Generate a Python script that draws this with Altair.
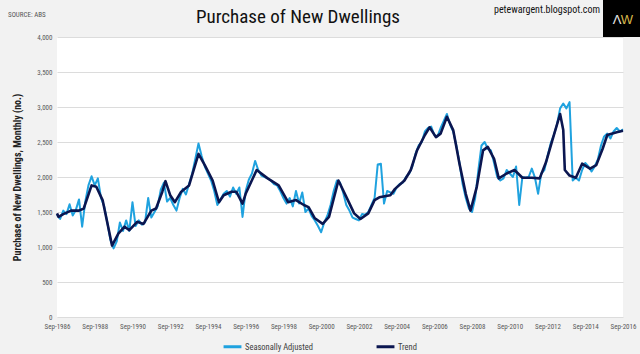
import altair as alt
import pandas as pd

# ---- data ----
start_year = 1986  # first observation: Sep-1986
tick_months = list(range(0, 361, 24))  # Sep every two years, months since Sep-1986

series_names = ["Seasonally Adjusted", "Trend"]
series_colors = ["#1fa2df", "#0b1650"]

trend_months = [0, 1, 4, 9, 14, 17, 22, 25, 29, 33,
                35, 39, 43, 46, 51, 55, 60, 63, 67, 69,
                72, 75, 79, 84, 90, 94, 99, 103, 106, 111,
                114, 118, 120, 127, 134, 141, 147, 152, 157, 160,
                164, 169, 173, 179, 185, 189, 193, 198, 202, 205,
                212, 215, 221, 225, 229, 234, 237, 241, 244, 248,
                252, 256, 260, 263, 267, 271, 274, 278, 281, 286,
                291, 296, 302, 307, 311, 315, 320, 322, 323, 326,
                330, 334, 339, 343, 347, 350, 356, 360]
trend_values = [1480, 1430, 1470, 1520, 1520, 1550, 1880, 1860, 1670, 1240,
                1020, 1190, 1290, 1240, 1360, 1330, 1520, 1550, 1790, 1940,
                1740, 1640, 1790, 1880, 2330, 2170, 1950, 1640, 1740, 1790,
                1790, 1620, 1760, 2100, 1980, 1880, 1640, 1670, 1600, 1570,
                1410, 1330, 1430, 1950, 1670, 1480, 1400, 1480, 1670, 1710,
                1740, 1830, 1950, 2100, 2380, 2600, 2710, 2570, 2620, 2860,
                2670, 2190, 1760, 1520, 1860, 2380, 2430, 2260, 1980, 2050,
                2100, 1990, 1990, 1980, 2210, 2520, 2900, 2670, 2100, 2020,
                1990, 2190, 2120, 2170, 2400, 2600, 2640, 2660]

# seasonally adjusted, every second month from Sep-1986
sa_values = [1460, 1400, 1520, 1470, 1610, 1450,
             1530, 1680, 1290, 1650, 1880, 2010,
             1880, 1980, 1700, 1580, 1350, 1100,
             980, 1080, 1350, 1230, 1380, 1230,
             1640, 1300, 1380, 1320, 1350, 1700,
             1420, 1500, 1580, 1820, 1920, 1650,
             1700, 1600, 1520, 1700, 1830, 1750,
             1900, 2050, 2260, 2480, 2300, 2150,
             2050, 1950, 1800, 1600, 1680, 1760,
             1800, 1720, 1850, 1760, 1850, 1430,
             1800, 1960, 2050, 2230, 2100, 2020,
             2000, 1980, 1950, 1900, 1880, 1800,
             1700, 1620, 1700, 1580, 1800, 1620,
             1780, 1500, 1550, 1440, 1380, 1300,
             1210, 1350, 1450, 1600, 1800, 1950,
             1920, 1780, 1600, 1520, 1420, 1400,
             1380, 1470, 1460, 1500, 1600, 1700,
             2180, 2190, 1620, 1800, 1780, 1760,
             1850, 1900, 1920, 2000, 2050, 2150,
             2330, 2450, 2500, 2650, 2700, 2720,
             2600, 2580, 2700, 2800, 2900, 2750,
             2650, 2450, 2200, 1900, 1700, 1550,
             1500, 1700, 2100, 2450, 2500, 2400,
             2380, 2200, 2000, 1950, 1980, 2100,
             2050, 2000, 2150, 1600, 2000, 1990,
             2000, 2120, 1990, 1760, 2050, 2100,
             2300, 2480, 2600, 2750, 2980, 3050,
             2980, 3070, 1950, 1990, 1950, 2100,
             2200, 2150, 2080, 2150, 2250, 2450,
             2580, 2620, 2550, 2650, 2700, 2650,
             2680]
sa_months = list(range(0, 2 * len(sa_values), 2))

df_sa = pd.DataFrame({"m": sa_months, "v": sa_values, "s": series_names[0]})
df_tr = pd.DataFrame({"m": trend_months, "v": trend_values, "s": series_names[1]})

NARROW = "Liberation Sans Narrow, Arial Narrow, Roboto Condensed, DejaVu Sans Condensed, sans-serif"
SANS = "Liberation Sans, Arial, sans-serif"

x_enc = alt.X(
    "m:Q",
    scale=alt.Scale(domain=[0, 360], nice=False, zero=False),
    axis=alt.Axis(
        values=tick_months,
        labelExpr=f"'Sep-' + ({start_year} + datum.value / 12)",
        title=None, grid=False, ticks=False, domain=False,
        labelFontSize=7, labelColor="#595959", labelPadding=5, labelFont=NARROW,
        labelOverlap=False, labelFlush=False, labelBound=False,
    ),
)
y_enc = alt.Y(
    "v:Q",
    scale=alt.Scale(domain=[0, 4000], nice=False),
    axis=alt.Axis(
        values=list(range(0, 4001, 500)), format=",.0f",
        title="Purchase of New Dwellings, Monthly (no.)",
        titleFont=NARROW, titleFontSize=10, titleFontWeight="bold", titleColor="#222222",
        titleX=-40, titleY=140, titleAngle=270, titleAlign="center", titleBaseline="middle",
        ticks=False, domain=False, labelFontSize=7, labelColor="#595959", labelPadding=5,
        labelFont=NARROW, gridColor="#dcdcdc", gridWidth=1, labelFlush=False,
    ),
)
color_enc = alt.Color(
    "s:N",
    scale=alt.Scale(domain=series_names, range=series_colors),
    legend=alt.Legend(
        title=None, orient="none", legendX=165, legendY=299, direction="horizontal",
        symbolType="stroke", symbolStrokeWidth=3, symbolSize=320,
        labelFont=NARROW, labelFontSize=8.5, labelColor="#404040",
        columnPadding=57, padding=0, labelOffset=2,
    ),
)

sa_line = alt.Chart(df_sa).mark_line(strokeWidth=2, strokeJoin="round").encode(
    x=x_enc, y=y_enc, color=color_enc)
tr_line = alt.Chart(df_tr).mark_line(strokeWidth=2.6, strokeJoin="round").encode(
    x=x_enc, y=y_enc, color=color_enc)

anno = alt.Chart(pd.DataFrame({"k": [0]}))
title = anno.mark_text(text="Purchase of New Dwellings", font=NARROW, fontSize=19,
                       align="center", baseline="middle", color="#111111").encode(
    x=alt.value(241), y=alt.value(-20))
source = anno.mark_text(text="SOURCE: ABS", font=NARROW, fontSize=7,
                        align="left", baseline="middle", color="#555555").encode(
    x=alt.value(-49), y=alt.value(-22))
blog = anno.mark_text(text="petewargent.blogspot.com", font=NARROW, fontSize=10,
                      align="right", baseline="middle", color="#111111").encode(
    x=alt.value(543), y=alt.value(-27))
logo_box = anno.mark_rect(color="#000000").encode(
    x=alt.value(546), x2=alt.value(590), y=alt.value(-40), y2=alt.value(0))
logo_a = anno.mark_text(text="Λ", font=SANS, fontSize=13, align="center", baseline="middle",
                        color="#e8e8e8").encode(x=alt.value(560), y=alt.value(-17))
logo_w = anno.mark_text(text="W", font=SANS, fontSize=13, align="center", baseline="middle",
                        color="#d9b84a").encode(x=alt.value(570), y=alt.value(-17))

chart = alt.layer(sa_line, tr_line, title, source, blog, logo_box, logo_a, logo_w).properties(
    width=566, height=280,
    autosize=alt.AutoSizeParams(type="none"),
    padding={"left": 57, "top": 37, "right": 17, "bottom": 37},
    background="#f2f2f2",
).configure_view(fill="#ffffff", stroke=None)

chart.save("out.html", embed_options={"renderer": "svg", "actions": False})
